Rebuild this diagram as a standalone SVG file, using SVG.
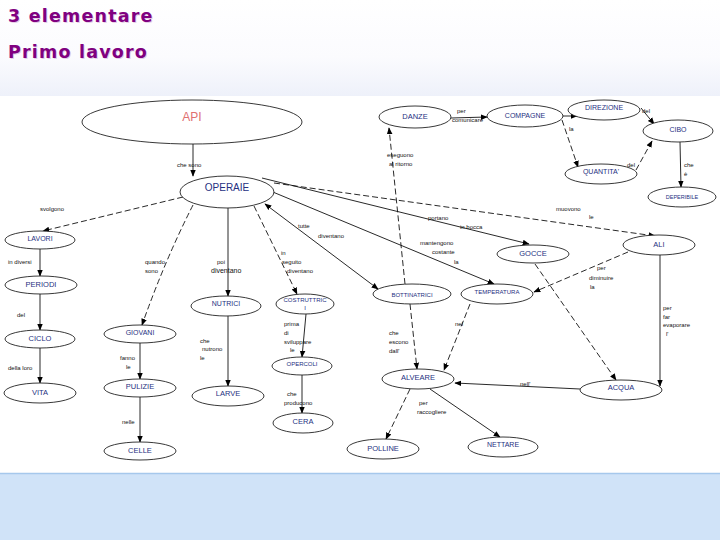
<svg xmlns="http://www.w3.org/2000/svg" width="720" height="540" viewBox="0 0 720 540">
<defs>
<linearGradient id="hdr" x1="0" y1="0" x2="0" y2="1">
<stop offset="0" stop-color="#ffffff"/><stop offset="0.6" stop-color="#fbfbfe"/><stop offset="1" stop-color="#eef1fa"/>
</linearGradient>
<marker id="a" viewBox="0 0 10 10" refX="9" refY="5" markerWidth="7" markerHeight="7" markerUnits="userSpaceOnUse" orient="auto-start-reverse"><path d="M0,1 L10,5 L0,9 z" fill="#000"/></marker>
<style>
.n ellipse{fill:#fff;stroke:#222;stroke-width:0.9}
.n text{font-family:"Liberation Sans",Arial,sans-serif;font-size:7.5px;fill:#25307f;text-anchor:middle}
.c line,.c path{stroke:#111;stroke-width:0.9;fill:none;marker-end:url(#a)}
.c .d{stroke-dasharray:6 3}
.l text{font-family:"Liberation Sans",Arial,sans-serif;font-size:6px;fill:#111}
.t{font-family:"DejaVu Sans",Verdana,sans-serif;font-size:17.5px;font-weight:bold;fill:#800080;letter-spacing:1.2px}
</style>
</defs>
<rect x="0" y="0" width="720" height="96" fill="url(#hdr)"/>
<rect x="0" y="96" width="720" height="377" fill="#fff"/>
<rect x="0" y="473" width="720" height="67" fill="#d0e3f8"/>
<line x1="0" y1="473.5" x2="720" y2="473.5" stroke="#a6c8ec" stroke-width="1.5"/>
<text class="t" x="8" y="22" fill-opacity="0.2" transform="translate(1,1)">3 elementare</text>
<text class="t" x="8" y="22">3 elementare</text>
<text class="t" x="8" y="58" fill-opacity="0.2" transform="translate(1,1)">Primo lavoro</text>
<text class="t" x="8" y="58">Primo lavoro</text>

<g class="c" id="connectors">
<line x1="193" y1="144" x2="193" y2="176"/>
<line class="d" x1="183" y1="197" x2="43" y2="231"/>
<line x1="40" y1="249" x2="40" y2="276"/>
<line x1="40" y1="294" x2="40" y2="330"/>
<line x1="40" y1="348" x2="40" y2="383"/>
<path class="d" d="M193,205 Q165,260 142,325"/>
<line x1="140" y1="343" x2="140" y2="379"/>
<line x1="140" y1="397" x2="140" y2="442"/>
<line x1="228" y1="208" x2="228" y2="296"/>
<line x1="228" y1="316" x2="228" y2="386"/>
<line class="d" x1="254" y1="206" x2="297" y2="294"/>
<line x1="306" y1="314" x2="302" y2="357"/>
<line x1="302" y1="375" x2="302" y2="413"/>
<line x1="265" y1="204" x2="378" y2="289" style="marker-start:url(#a)"/>
<line class="d" x1="405" y1="284" x2="389" y2="128"/>
<line x1="451" y1="118" x2="487" y2="117"/>
<line x1="562" y1="116" x2="577" y2="116"/>
<line class="d" x1="562" y1="120" x2="578" y2="167"/>
<line x1="641" y1="108" x2="654" y2="124"/>
<line class="d" x1="636" y1="170" x2="652" y2="141"/>
<line x1="680" y1="142" x2="681" y2="187"/>
<line class="d" x1="274" y1="183" x2="655" y2="236"/>
<line x1="262" y1="178" x2="529" y2="244"/>
<line x1="268" y1="190" x2="494" y2="284"/>
<line class="d" x1="628" y1="252" x2="534" y2="292"/>
<line class="d" x1="535" y1="264" x2="616" y2="380"/>
<line x1="660" y1="255" x2="660" y2="386"/>
<line class="d" x1="470" y1="304" x2="444" y2="370"/>
<line class="d" x1="410" y1="304" x2="417" y2="369"/>
<line x1="580" y1="389" x2="455" y2="383"/>
<line class="d" x1="410" y1="389" x2="386" y2="439"/>
<line x1="430" y1="389" x2="500" y2="437"/>
</g>

<g class="l" id="link-labels">
<text x="177" y="167">che sono</text>
<text x="40" y="211">svolgono</text>
<text x="8" y="264">in diversi</text>
<text x="17" y="317">del</text>
<text x="8" y="370">della loro</text>
<text x="145" y="264">quando</text>
<text x="145" y="273">sono</text>
<text x="120" y="360">fanno</text>
<text x="126" y="369">le</text>
<text x="122" y="424">nelle</text>
<text x="217" y="264">poi</text>
<text x="211" y="273" style="font-size:7px">diventano</text>
<text x="200" y="343">che</text>
<text x="202" y="351">nutrono</text>
<text x="200" y="360">le</text>
<text x="281" y="255">in</text>
<text x="282" y="264">seguito</text>
<text x="287" y="273">diventano</text>
<text x="284" y="326">prima</text>
<text x="284" y="335">di</text>
<text x="284" y="344">sviluppare</text>
<text x="290" y="352">le</text>
<text x="287" y="396">che</text>
<text x="284" y="405">producono</text>
<text x="298" y="228">tutte</text>
<text x="318" y="238">diventano</text>
<text x="387" y="157">eseguono</text>
<text x="389" y="166">al ritorno</text>
<text x="457" y="113">per</text>
<text x="452" y="122">comunicare</text>
<text x="569" y="131">la</text>
<text x="642" y="113">del</text>
<text x="627" y="167">del</text>
<text x="684" y="167">che</text>
<text x="684" y="176">è</text>
<text x="556" y="211">muovono</text>
<text x="589" y="219">le</text>
<text x="428" y="220">portano</text>
<text x="460" y="229">in bocca</text>
<text x="420" y="245">mantengono</text>
<text x="432" y="254">costante</text>
<text x="454" y="264">la</text>
<text x="597" y="270">per</text>
<text x="589" y="280">diminuire</text>
<text x="590" y="289">la</text>
<text x="663" y="310">per</text>
<text x="663" y="319">far</text>
<text x="663" y="327">evaporare</text>
<text x="666" y="336">l'</text>
<text x="455" y="326">nel</text>
<text x="389" y="335">che</text>
<text x="389" y="344">escono</text>
<text x="389" y="353">dall'</text>
<text x="520" y="386">nell'</text>
<text x="419" y="405">per</text>
<text x="417" y="414">raccogliere</text>
</g>

<g class="n" id="api"><ellipse cx="192" cy="122" rx="110" ry="22"/><text x="192" y="121" style="font-size:12px;fill:#e07070">API</text></g>
<g class="n" id="operaie"><ellipse cx="227" cy="192" rx="47" ry="16"/><text x="227" y="191" style="font-size:10px">OPERAIE</text></g>
<g class="n" id="danze"><ellipse cx="415" cy="117" rx="36" ry="11"/><text x="415" y="119">DANZE</text></g>
<g class="n" id="compagne"><ellipse cx="525" cy="116" rx="38" ry="11"/><text x="525" y="118" style="font-size:7px">COMPAGNE</text></g>
<g class="n" id="direzione"><ellipse cx="604" cy="110" rx="36" ry="10"/><text x="604" y="110" style="font-size:7px">DIREZIONE</text></g>
<g class="n" id="cibo"><ellipse cx="678" cy="131" rx="35" ry="11"/><text x="678" y="132" style="font-size:7px">CIBO</text></g>
<g class="n" id="quantita"><ellipse cx="601" cy="174" rx="36" ry="10"/><text x="601" y="174" style="font-size:7px">QUANTITA'</text></g>
<g class="n" id="deperibile"><ellipse cx="682" cy="197" rx="34" ry="10"/><text x="682" y="199" style="font-size:5.5px">DEPERIBILE</text></g>
<g class="n" id="ali"><ellipse cx="659" cy="245" rx="36" ry="10"/><text x="659" y="247">ALI</text></g>
<g class="n" id="gocce"><ellipse cx="533" cy="254" rx="36" ry="9"/><text x="533" y="256">GOCCE</text></g>
<g class="n" id="temperatura"><ellipse cx="497" cy="294" rx="36" ry="10"/><text x="497" y="294" style="font-size:6px">TEMPERATURA</text></g>
<g class="n" id="bottinatrici"><ellipse cx="412" cy="294" rx="39" ry="10"/><text x="412" y="297" style="font-size:6px">BOTTINATRICI</text></g>
<g class="n" id="costruttrici"><ellipse cx="305" cy="304" rx="29" ry="10"/><text x="305" y="302" style="font-size:6px">COSTRUTTRIC</text><text x="305" y="310" style="font-size:6px">I</text></g>
<g class="n" id="nutrici"><ellipse cx="226" cy="306" rx="35" ry="10"/><text x="226" y="306" style="font-size:7px">NUTRICI</text></g>
<g class="n" id="lavori"><ellipse cx="40" cy="240" rx="35" ry="9"/><text x="40" y="241" style="font-size:7px">LAVORI</text></g>
<g class="n" id="periodi"><ellipse cx="41" cy="285" rx="36" ry="9"/><text x="41" y="287">PERIODI</text></g>
<g class="n" id="ciclo"><ellipse cx="40" cy="339" rx="35" ry="9"/><text x="40" y="341">CICLO</text></g>
<g class="n" id="vita"><ellipse cx="40" cy="393" rx="36" ry="10"/><text x="40" y="395">VITA</text></g>
<g class="n" id="giovani"><ellipse cx="140" cy="334" rx="36" ry="9"/><text x="140" y="335" style="font-size:7px">GIOVANI</text></g>
<g class="n" id="pulizie"><ellipse cx="140" cy="388" rx="36" ry="9"/><text x="140" y="389">PULIZIE</text></g>
<g class="n" id="celle"><ellipse cx="140" cy="451" rx="36" ry="9"/><text x="140" y="453">CELLE</text></g>
<g class="n" id="larve"><ellipse cx="228" cy="396" rx="36" ry="10"/><text x="228" y="396">LARVE</text></g>
<g class="n" id="opercoli"><ellipse cx="302" cy="366" rx="30" ry="9"/><text x="302" y="366" style="font-size:6px">OPERCOLI</text></g>
<g class="n" id="cera"><ellipse cx="303" cy="423" rx="30" ry="10"/><text x="303" y="424">CERA</text></g>
<g class="n" id="alveare"><ellipse cx="418" cy="379" rx="36" ry="10"/><text x="418" y="380">ALVEARE</text></g>
<g class="n" id="polline"><ellipse cx="383" cy="449" rx="36" ry="10"/><text x="383" y="451">POLLINE</text></g>
<g class="n" id="nettare"><ellipse cx="503" cy="447" rx="35" ry="10"/><text x="503" y="447" style="font-size:7px">NETTARE</text></g>
<g class="n" id="acqua"><ellipse cx="621" cy="390" rx="41" ry="10"/><text x="621" y="390">ACQUA</text></g>
</svg>
